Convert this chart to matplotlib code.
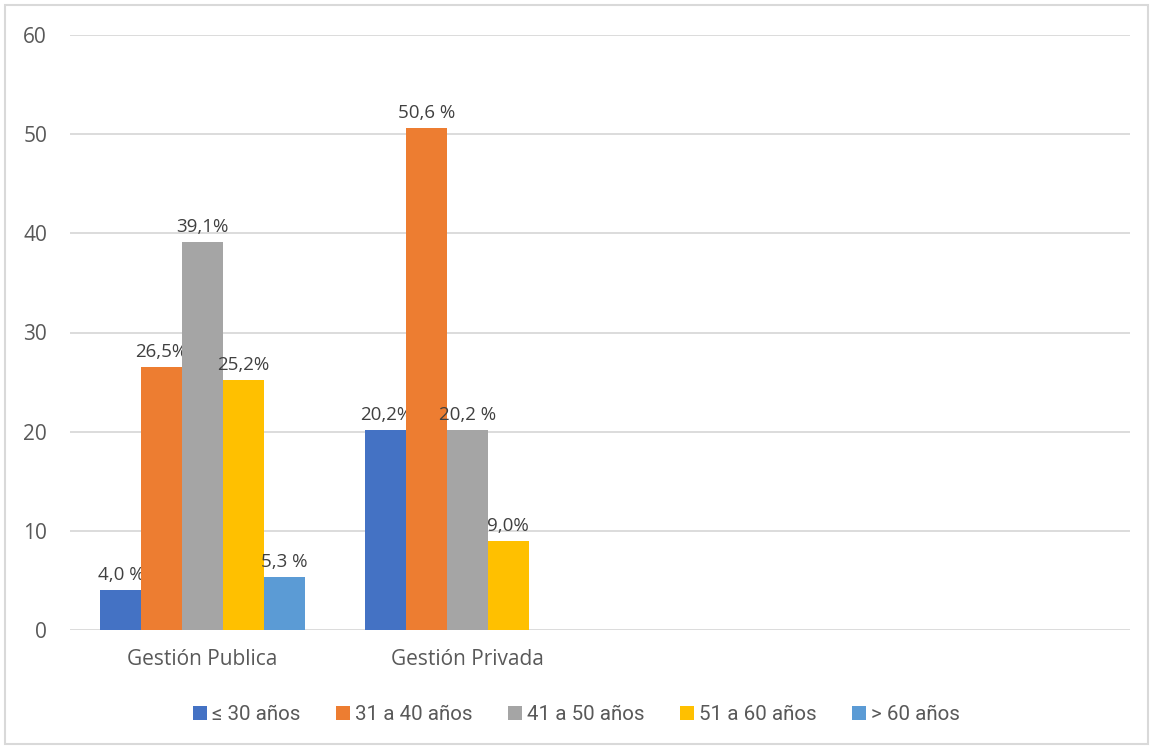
import matplotlib
matplotlib.use("Agg")
import matplotlib.pyplot as plt
from matplotlib.patches import Rectangle
from matplotlib import font_manager
import numpy as np

categories = ["Gestión Publica", "Gestión Privada", "", ""]
series_names = ["≤ 30 años", "31 a 40 años", "41 a 50 años", "51 a 60 años", "> 60 años"]
colors = ["#4472C4", "#ED7D31", "#A5A5A5", "#FFC000", "#5B9BD5"]
values = [
    [4.0, 20.2, None, None],
    [26.5, 50.6, None, None],
    [39.1, 20.2, None, None],
    [25.2, 9.0, None, None],
    [5.3, None, None, None],
]
labels = [
    ["4,0 %", "20,2%"],
    ["26,5%", "50,6 %"],
    ["39,1%", "20,2 %"],
    ["25,2%", "9,0%"],
    ["5,3 %"],
]
yticks = [0, 10, 20, 30, 40, 50, 60]

plt.rcParams['font.family'] = ['Open Sans', 'DejaVu Sans']
txt = "#595959"

names = {f.name for f in font_manager.fontManager.ttflist}
leg_family = ['Liberation Sans Narrow', 'DejaVu Sans'] if 'Liberation Sans Narrow' in names else ['Roboto', 'DejaVu Sans']

fig = plt.figure(figsize=(11.53, 7.49), dpi=100)
fig.patches.append(Rectangle((5/1153, 5/749), 1143/1153, 739/749, transform=fig.transFigure,
                             fill=False, edgecolor="#D9D9D9", linewidth=1.5))
ax = fig.add_axes([70/1153, 1-630/749, 1060/1153, 595/749])

x = np.arange(len(categories))
w = 0.154
n = len(series_names)
for i in range(n):
    xs, ys = [], []
    for j, v in enumerate(values[i]):
        if v is not None:
            xs.append(x[j] + (i - (n - 1) / 2) * w)
            ys.append(v)
    bars = ax.bar(xs, ys, width=w, color=colors[i], label=series_names[i], zorder=3)
    for b, lab in zip(bars, labels[i]):
        ax.text(b.get_x() + b.get_width() / 2, b.get_height() + 0.6, lab,
                ha="center", va="bottom", fontsize=13.5, color="#404040")

ax.set_xlim(-0.5, len(categories) - 0.5)
ax.set_ylim(0, 60)
ax.set_yticks(yticks)
ax.set_xticks(x)
ax.set_xticklabels(categories)
ax.yaxis.grid(True, color="#D9D9D9", linewidth=1.3, zorder=0)
for s in ["top", "right", "left", "bottom"]:
    ax.spines[s].set_visible(False)
ax.tick_params(axis="both", length=0, labelcolor=txt)
ax.tick_params(axis="y", labelsize=15, pad=16.5)
ax.tick_params(axis="x", labelsize=15, pad=14)

leg = fig.legend(loc="center", bbox_to_anchor=(0.5, 1-715/749), ncol=5, frameon=False,
                 prop={'family': leg_family, 'size': 14.8},
                 handlelength=0.65, handleheight=0.65, handletextpad=0.25,
                 columnspacing=1.75, labelcolor=txt)

fig.savefig("out.png", dpi=100)
